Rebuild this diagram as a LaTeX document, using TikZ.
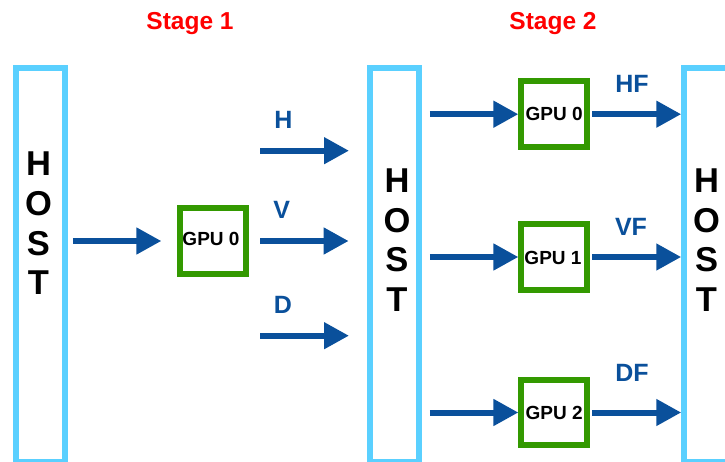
\documentclass[tikz,border=0pt]{standalone}
\usepackage{fontspec}
\setmainfont{Liberation Sans}
\usetikzlibrary{arrows.meta,calc}
\definecolor{hostc}{RGB}{90,208,255}
\definecolor{gpuc}{RGB}{51,153,0}
\definecolor{arrc}{RGB}{10,80,155}
\definecolor{stagec}{RGB}{255,0,0}
\begin{document}
\begin{tikzpicture}[x=1pt,y=-1pt,
  hostbox/.style={draw=hostc,line width=6pt,inner sep=0pt,minimum width=49.5pt,minimum height=394.6pt},
  hosttext/.style={inner sep=0pt,align=center,font=\fontsize{34.5}{39.7}\selectfont\bfseries},
  gpubox/.style={draw=gpuc,line width=6pt,inner sep=0pt,minimum size=65.6pt},
  gputext/.style={inner sep=0pt,font=\fontsize{19}{21}\selectfont\bfseries},
  arr/.style={draw=arrc,line width=6pt,-{Triangle[length=25pt,width=25.5pt]}},
  lbl/.style={inner sep=0pt,anchor=base,text=arrc,font=\fontsize{25}{28}\selectfont\bfseries},
  stage/.style={inner sep=0pt,anchor=base,text=stagec,font=\fontsize{24.5}{27}\selectfont\bfseries}]
\useasboundingbox (0,0) rectangle (725,462);
% titles
\node[stage] (st1) at (190,29.3) {Stage 1};
\node[stage] (st2) at (553,30) {Stage 2};
% host boxes
\node[hostbox] (hostA) at (40.4,265) {};
\node[hostbox] (hostB) at (394.7,265) {};
\node[hostbox] (hostC) at (709,265) {};
\node[hosttext] (hostAt) at (38.5,223.4) {H\\O\\S\\T};
\node[hosttext] (hostBt) at (397,240) {H\\O\\S\\T};
\node[hosttext] (hostCt) at (706.5,240) {H\\O\\S\\T};
% gpu boxes
\node[gpubox] (gpuA) at (212.8,241) {};
\node[gputext] (gpuAt) at (211,239) {GPU 0};
\node[gpubox] (gpuB0) at (554.2,114.2) {};
\node[gputext] (gpuB0t) at (554.2,114.2) {GPU 0};
\node[gpubox] (gpuB1) at (554.2,257) {};
\node[gputext] (gpuB1t) at (553,258) {GPU 1};
\node[gpubox] (gpuB2) at (554.2,412.5) {};
\node[gputext] (gpuB2t) at (554.2,413) {GPU 2};
% stage 1 connectors
\draw[arr,shorten <=4.7pt,shorten >=15.6pt] (hostA.east |- gpuA.west) -- (gpuA.west);
\coordinate (hs) at (260,150.7);
\coordinate (he) at (349,150.7);
\coordinate (ds) at (260,335.7);
\coordinate (de) at (349,335.7);
\draw[arr] (hs) -- (he);
\draw[arr,shorten <=11.7pt,shorten >=18.3pt] (gpuA.east) -- (gpuA.east -| hostB.west);
\draw[arr] (ds) -- (de);
\node[lbl] (lh) at (283.3,128.3) {H};
\node[lbl] (lv) at (281.7,218.3) {V};
\node[lbl] (ld) at (283,313.3) {D};
% stage 2 connectors
\foreach \g in {gpuB0,gpuB1,gpuB2}{
  \draw[arr,shorten <=7.3pt] (\g.west -| hostB.east) -- (\g.west);
  \draw[arr,shorten <=2.3pt] (\g.east) -- (\g.east -| hostC.west);
}
\node[lbl] (lhf) at (632,92.7) {HF};
\node[lbl] (lvf) at (631,235.7) {VF};
\node[lbl] (ldf) at (632,381.7) {DF};
\end{tikzpicture}
\end{document}
